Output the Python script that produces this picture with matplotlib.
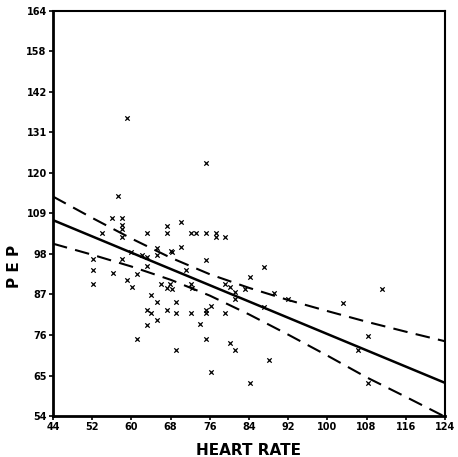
import matplotlib
matplotlib.use("Agg")
import matplotlib.pyplot as plt

# Scatter data (heart rate, PEP)
heart_rate = [59.2, 75.2, 57.2, 56.0, 58.0, 58.0, 58.0, 58.0, 54.1, 63.1,
              67.2, 67.2, 70.1, 72.1, 73.1, 75.2, 77.2, 77.2, 79.1, 65.2,
              70.1, 68.2, 65.2, 60.0, 62.1, 63.1, 75.2, 52.1, 58.0, 52.1,
              56.2, 63.1, 61.1, 71.1, 52.1, 59.1, 60.1, 66.1, 67.9, 67.2,
              68.3, 72.1, 72.3, 64.1, 65.2, 69.1, 63.1, 64.1, 67.2, 69.1,
              72.1, 75.2, 75.2, 76.2, 65.2, 63.1, 74.1, 61.1, 75.2, 69.2,
              76.2, 87.1, 84.2, 79.1, 80.1, 81.1, 83.2, 81.1, 89.1, 92.0,
              87.1, 79.1, 80.1, 81.1, 88.1, 84.2, 103.1, 111.2, 108.2, 106.2,
              108.2, 68.0]
pep = [134.8, 122.6, 113.8, 107.9, 107.9, 105.8, 104.9, 102.7, 103.8, 103.8,
       105.7, 103.8, 106.7, 103.8, 103.8, 103.8, 103.8, 102.6, 102.6, 99.5,
       99.8, 98.6, 97.7, 98.6, 97.6, 97.1, 96.5, 96.6, 96.6, 93.7,
       92.8, 94.7, 92.7, 93.6, 89.9, 90.9, 88.9, 89.8, 89.9, 88.7,
       88.6, 89.9, 88.7, 86.8, 84.9, 84.9, 82.9, 82.1, 82.9, 82.1,
       82.0, 82.8, 81.9, 83.9, 80.0, 78.8, 79.0, 74.9, 74.9, 72.0,
       65.9, 94.5, 91.7, 89.8, 88.9, 87.7, 88.6, 85.8, 87.4, 85.7,
       83.6, 81.9, 73.9, 71.9, 69.2, 62.9, 84.6, 88.6, 75.8, 71.9,
       63.0, 98.8]

# Regression line
reg_x = [44, 124]
reg_y = [107.2, 63.0]

# Confidence band
band_x = [44, 52, 60, 68, 76, 84, 92, 100, 108, 116, 124]
upper_y = [113.6, 107.8, 102.2, 97.0, 92.5, 88.8, 85.5, 82.5, 79.6, 76.9, 74.3]
lower_y = [100.8, 97.8, 94.6, 91.0, 86.7, 81.6, 76.1, 70.4, 64.5, 59.2, 53.8]

x_ticks = [44, 52, 60, 68, 76, 84, 92, 100, 108, 116, 124]
y_ticks = [54, 65, 76, 87, 98, 109, 120, 131, 142, 153, 164]
y_tick_labels = ['54', '65', '76', '87', '98', '109', '120', '131', '142', '158', '164']

fig = plt.figure(figsize=(4.58, 4.57), dpi=100)
ax = fig.add_axes([0.1157, 0.0897, 0.8559, 0.8863])

ax.scatter(heart_rate, pep, marker='x', s=10, linewidths=0.9, color='black', zorder=3)
ax.plot(reg_x, reg_y, color='black', lw=1.8, solid_capstyle='butt')
ax.plot(band_x, upper_y, color='black', lw=1.5, dashes=(7, 4))
ax.plot(band_x, lower_y, color='black', lw=1.5, dashes=(7, 4))

ax.set_xlim(44, 124)
ax.set_ylim(54, 164)
ax.set_xticks(x_ticks)
ax.set_xticklabels([str(v) for v in x_ticks], fontsize=7, fontweight='bold')
ax.set_yticks(y_ticks)
ax.set_yticklabels(y_tick_labels, fontsize=7, fontweight='bold')
ax.tick_params(axis='both', direction='out', length=3, width=1.2, pad=1.5)

for side in ['left', 'bottom']:
    ax.spines[side].set_linewidth(2.0)
for side in ['top', 'right']:
    ax.spines[side].set_linewidth(1.5)

ax.set_xlabel('HEART RATE', fontsize=11, fontweight='bold', labelpad=8)
ax.set_ylabel('P E P', fontsize=11, fontweight='bold')
ax.yaxis.set_label_coords(-0.08, 0.37)

fig.savefig('out.png', dpi=100)
